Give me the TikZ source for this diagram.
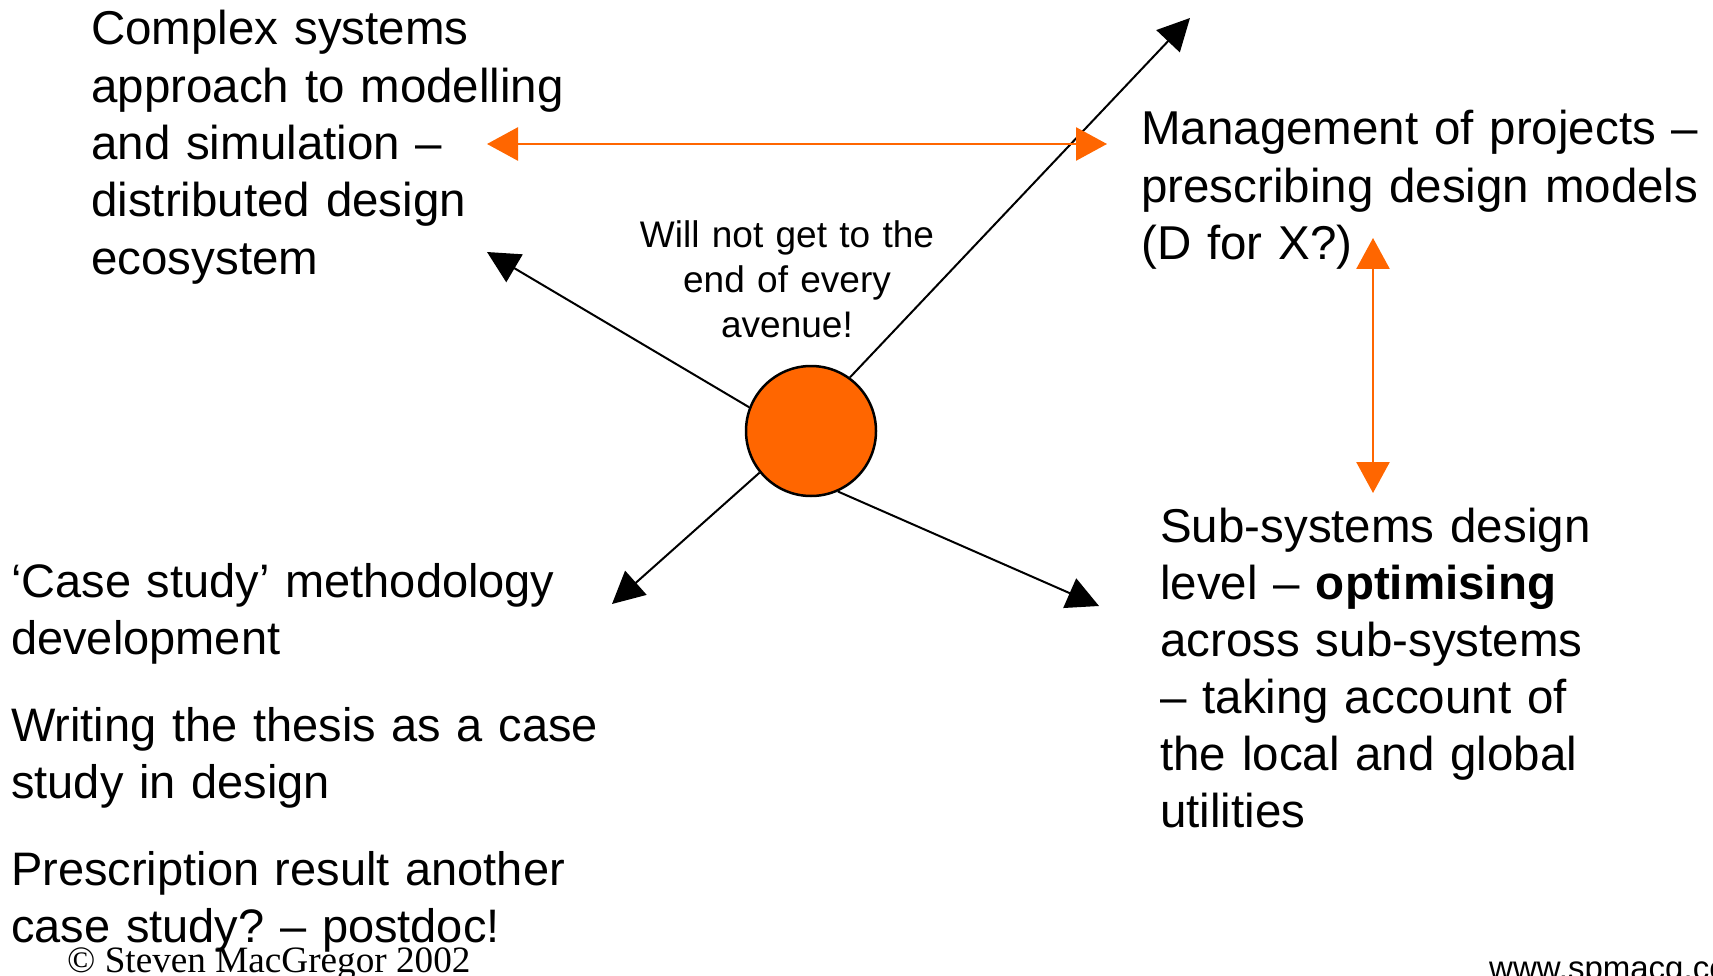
\documentclass[tikz,border=0pt]{standalone}
\usepackage{fontspec}
\setmainfont{Liberation Sans}
\newfontfamily\creditfont{Liberation Serif}
\usetikzlibrary{arrows.meta}
\definecolor{accent}{HTML}{FF6600}
\frenchspacing
\begin{document}
\begin{tikzpicture}[x=1pt, y=-1pt,
  spoke/.style={draw=black, line width=2pt, -{Triangle[length=32pt,width=32pt]}},
  link/.style={draw=accent, line width=2.7pt,
    {Triangle[length=31pt,width=33pt]}-{Triangle[length=31pt,width=33pt]}},
  textblock/.style={inner sep=0pt, anchor=base west, align=left, text width=#1},
  hubstyle/.style={circle, fill=accent, draw=black, line width=2.5pt,
    minimum size=130pt, inner sep=0pt},
]
\useasboundingbox (0,0) rectangle (1713,976);

% central hub and its four avenues
\node[hubstyle] (hub) at (811,431) {};
\coordinate (tipNE) at (1190,18);
\coordinate (tipNW) at (487,252);
\coordinate (tipSW) at (612,604);
\coordinate (tipSE) at (1099,606);
\draw[spoke] (hub.54) -- (tipNE);
\draw[spoke] (hub.159) -- (tipNW);
\draw[spoke] (hub.219) -- (tipSW);
\draw[spoke] (hub.-66.5) -- (tipSE);

% two-way links between themes
\coordinate (linkL) at (487,144);
\coordinate (linkR) at (1107,144);
\draw[link] (linkL) -- (linkR);
\coordinate (linkT) at (1373,238);
\coordinate (linkB) at (1373,493);
\draw[link] (linkT) -- (linkB);

% theme texts
\node[textblock=600pt, font=\fontsize{47.5}{57.3}\selectfont] (complex) at (91,45)
  {Complex systems\\approach to modelling\\and simulation –\\distributed design\\ecosystem};
\node[textblock=600pt, font=\fontsize{47.5}{57.5}\selectfont] (mgmt) at (1141,145)
  {Management of projects –\\prescribing design models\\(D for X?)};
\node[textblock=600pt, font=\fontsize{47.5}{57.1}\selectfont] (subsys) at (1160,542)
  {Sub-systems design\\level – \textbf{optimising}\\across sub-systems\\– taking account of\\the local and global\\utilities};
\node[textblock=700pt, font=\fontsize{47}{57}\selectfont] (casestudy) at (11,597)
  {‘Case study’ methodology\\development\\[30pt]Writing the thesis as a case\\study in design\\[30pt]Prescription result another\\case study? – postdoc!};
\node[inner sep=0pt, anchor=base, align=center, text width=400pt,
  font=\fontsize{37}{44.8}\selectfont] (avenue) at (787,248)
  {Will not get to the\\end of every\\avenue!};

% footer
\node[inner sep=0pt, anchor=base west, font=\creditfont\fontsize{37.2}{40}\selectfont] (credit) at (67,972)
  {© Steven MacGregor 2002};
\begin{scope}
\clip (0,0) rectangle (1713,976);
\node[inner sep=0pt, anchor=base west, font=\fontsize{33}{36}\selectfont] (web) at (1489,979)
  {www.spmacg.com};
\end{scope}
\end{tikzpicture}
\end{document}
